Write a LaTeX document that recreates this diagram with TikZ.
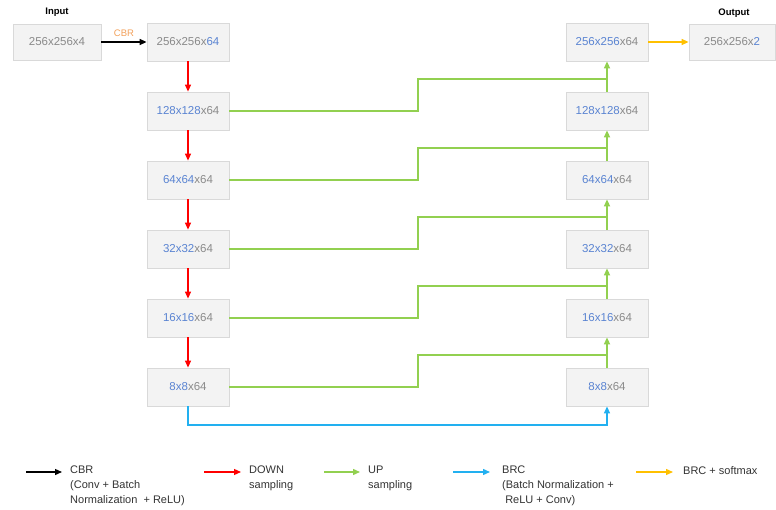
\documentclass[tikz,border=0pt]{standalone}
\usepackage{fontspec}
\setmainfont{Liberation Sans}
\usetikzlibrary{positioning,calc,arrows.meta}
\definecolor{boxfill}{HTML}{F3F3F3}
\definecolor{boxline}{HTML}{D9D9D9}
\definecolor{dimgrey}{HTML}{8A8A8A}
\definecolor{dimblue}{HTML}{5A84D2}
\definecolor{upgreen}{HTML}{92D050}
\definecolor{brcblue}{HTML}{22B0F0}
\definecolor{smxorange}{HTML}{FFC000}
\definecolor{cbrorange}{HTML}{F2A05A}
\newcommand{\bl}[1]{\textcolor{dimblue}{#1}}

\begin{document}
\begin{tikzpicture}[x=1pt, y=-1pt,
  fmap/.style={draw=boxline, fill=boxfill, line width=0.8pt,
               minimum height=38pt, minimum width=82pt, inner sep=0pt,
               text=dimgrey, font=\fontsize{11.5}{13}\selectfont},
  io/.style={fmap, minimum width=88pt, minimum height=36pt},
  ttl/.style={font=\fontsize{9.5}{10}\selectfont\bfseries},
  legtxt/.style={anchor=north west, align=left, inner sep=0pt,
                 text=black!80, font=\fontsize{11}{15}\selectfont},
  tip/.style={-{Triangle[length=7pt,width=6pt]}},
  cbr/.style={line width=1.3pt, tip, black},
  down/.style={line width=1.2pt, tip, red},
  up/.style={line width=1.6pt, tip, upgreen},
  upl/.style={line width=1.6pt, upgreen},
  brc/.style={line width=1.3pt, tip, brcblue},
  smx/.style={line width=1.3pt, tip, smxorange},
]
\useasboundingbox (0,0) rectangle (776,510);

% input / output
\node[io] (in) at (57,42) {256x256x4};
\node[ttl] (inlbl) at (57,12) {Input};
\node[io, minimum width=86pt] (out) at (732,42) {256x256x\bl{2}};
\node[ttl] (outlbl) at (734,13) {Output};

% encoder column
\node[fmap] (l0) at (188,42)  {256x256x\bl{64}};
\node[fmap] (l1) at (188,111) {\bl{128x128}x64};
\node[fmap] (l2) at (188,180) {\bl{64x64}x64};
\node[fmap] (l3) at (188,249) {\bl{32x32}x64};
\node[fmap] (l4) at (188,318) {\bl{16x16}x64};
\node[fmap] (l5) at (188,387) {\bl{8x8}x64};

% decoder column
\node[fmap] (r0) at (607,42)  {\bl{256x256}x64};
\node[fmap] (r1) at (607,111) {\bl{128x128}x64};
\node[fmap] (r2) at (607,180) {\bl{64x64}x64};
\node[fmap] (r3) at (607,249) {\bl{32x32}x64};
\node[fmap] (r4) at (607,318) {\bl{16x16}x64};
\node[fmap] (r5) at (607,387) {\bl{8x8}x64};

\draw[cbr] (in) -- node[above=1pt, text=cbrorange, font=\fontsize{9.5}{10}\selectfont] {CBR} (l0);
\draw[smx] (r0) -- (out);

\foreach \a/\b in {0/1,1/2,2/3,3/4,4/5} {
  \draw[down] (l\a) -- (l\b);
  \draw[up] (r\b) -- (r\a);
}

% skip connections
\foreach \i/\y in {1/79,2/148,3/217,4/286,5/355} {
  \coordinate (m\i) at (418,\y);
  \draw[upl] (l\i.east) -| (m\i) -- (m\i -| r\i.north);
}

% bottleneck
\coordinate (b5) at (188,425);
\draw[brc] (l5.south) -- (b5) -| (r5.south);

% legend
\node[legtxt] (t1) at (70,466) {CBR\\(Conv + Batch\\Normalization \ + ReLU)};
\node[legtxt] (t2) at (249,466) {DOWN\\sampling};
\node[legtxt] (t3) at (368,466) {UP\\sampling};
\node[legtxt] (t4) at (502,466) {BRC\\(Batch Normalization +\\\ ReLU + Conv)};
\node[legtxt] (t5) at (683,466) {BRC + softmax};
\coordinate (s1) at (26,472);  \coordinate (e1) at (62,472);
\coordinate (s2) at (204,472); \coordinate (e2) at (241,472);
\coordinate (s3) at (324,472); \coordinate (e3) at (360,472);
\coordinate (s4) at (453,472); \coordinate (e4) at (490,472);
\coordinate (s5) at (636,472); \coordinate (e5) at (673,472);
\draw[cbr] (s1) -- (e1);
\draw[down] (s2) -- (e2);
\draw[up, line width=1.3pt] (s3) -- (e3);
\draw[brc] (s4) -- (e4);
\draw[smx] (s5) -- (e5);

\end{tikzpicture}
\end{document}
